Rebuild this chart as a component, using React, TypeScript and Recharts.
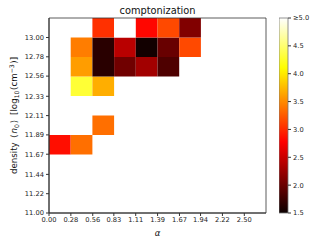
import { ScatterChart, XAxis, YAxis, ReferenceArea } from 'recharts';

// tick labels as printed on the axes
const alphaTicks = [0.0, 0.28, 0.56, 0.83, 1.11, 1.39, 1.67, 1.94, 2.22, 2.5];
const densityTicks = [11.0, 11.22, 11.44, 11.67, 11.89, 12.11, 12.33, 12.56, 12.78, 13.0];
const colorTicks = [1.5, 2.0, 2.5, 3.0, 3.5, 4.0, 4.5, 5.0];

// filled cells: alpha bin index, density bin index, value
const cellAlpha = [0, 1, 2, 1, 2, 1, 2, 3, 4, 5, 1, 2, 3, 4, 5, 6, 2, 3, 4, 5, 6];
const cellDensity = [3, 3, 4, 6, 6, 7, 7, 7, 7, 7, 8, 8, 8, 8, 8, 8, 9, 9, 9, 9, 9];
const cellValue = [
  2.85, 3.36, 3.36, 4.3, 3.69, 3.6, 1.66, 2.03, 2.29, 1.85, 3.43, 1.66, 2.41, 1.54, 1.99, 3.16, 3.03, 5.2,
  2.81, 3.16, 2.12,
];

const V_MIN = 1.5;
const V_MAX = 5.0;
const A_BIN = 2.5 / 9;
const D_BIN = 2 / 9;
const A_MAX = 10 * A_BIN;
const D_MIN = 11;
const D_MAX = D_MIN + 10 * D_BIN;

const FONT = '"DejaVu Sans", sans-serif';
const AXIS = '#333';

// matplotlib "hot"
function hot(t: number) {
  const c = (v: number) => Math.max(0, Math.min(1, v));
  const r = c(0.0416 + (1 - 0.0416) * (t / 0.365079));
  const g = c((t - 0.365079) / (0.746032 - 0.365079));
  const b = c((t - 0.746032) / (1 - 0.746032));
  const h = (v: number) => Math.round(v * 255).toString(16).padStart(2, '0');
  return `#${h(r)}${h(g)}${h(b)}`;
}

const colorOf = (v: number) => hot(Math.max(0, Math.min(1, (v - V_MIN) / (V_MAX - V_MIN))));

const tickStyle = { fontSize: 6.7, fill: '#222', fontFamily: FONT };

// mathtext-like y label: density <n_0> [log_10(cm^-3)]
function DensityLabel(props: any) {
  const vb = props.viewBox || { x: 0, y: 18, width: 49, height: 195 };
  const cx = vb.x + 14;
  const cy = vb.y + vb.height / 2;
  const sub = 6.2;
  return (
    <text
      x={cx}
      y={cy}
      transform={`rotate(-90 ${cx} ${cy})`}
      textAnchor="middle"
      dominantBaseline="central"
      fontSize={8.7}
      fontFamily={FONT}
      fill="#111"
    >
      <tspan>density </tspan>
      <tspan dx={1.5}>⟨</tspan>
      <tspan dx={1} fontStyle="italic">n</tspan>
      <tspan fontSize={sub} dy={2}>0</tspan>
      <tspan dx={1} dy={-2}>⟩</tspan>
      <tspan dx={2}> [log</tspan>
      <tspan fontSize={sub} dy={2}>10</tspan>
      <tspan dx={0.5} dy={-2}>(cm</tspan>
      <tspan fontSize={sub} dy={-3.5}>−3</tspan>
      <tspan dx={0.5} dy={3.5}>)]</tspan>
    </text>
  );
}

export default function App() {
  return (
    <div style={{ position: 'absolute', left: 0, top: 0, width: 327, height: 245, background: '#fff', fontFamily: FONT }}>
      <div
        style={{
          position: 'absolute',
          left: 49,
          width: 217,
          top: 5,
          textAlign: 'center',
          fontSize: 9.8,
          color: '#111',
          lineHeight: '12px',
        }}
      >
        comptonization
      </div>

      <div style={{ position: 'absolute', left: 0, top: 0 }}>
        <ScatterChart width={327} height={245} margin={{ top: 18, right: 61, bottom: 0, left: 0 }}>
          <XAxis
            type="number"
            dataKey="x"
            domain={[0, A_MAX]}
            ticks={alphaTicks}
            tickFormatter={(v: number) => v.toFixed(2)}
            interval={0}
            height={32}
            tick={tickStyle}
            tickSize={3}
            tickMargin={1}
            stroke={AXIS}
            allowDataOverflow
            label={{ value: 'α', position: 'center', dy: 4, style: { fontSize: 8.5, fontStyle: 'italic', fill: '#111', fontFamily: FONT } }}
          />
          <YAxis
            type="number"
            dataKey="y"
            domain={[D_MIN, D_MAX]}
            ticks={densityTicks}
            tickFormatter={(v: number) => v.toFixed(2)}
            interval={0}
            width={49}
            tick={tickStyle}
            tickSize={3}
            tickMargin={2}
            stroke={AXIS}
            allowDataOverflow
            label={<DensityLabel />}
          />
          {cellValue.map((v, k) => (
            <ReferenceArea
              key={k}
              x1={cellAlpha[k] * A_BIN}
              x2={(cellAlpha[k] + 1) * A_BIN}
              y1={D_MIN + cellDensity[k] * D_BIN}
              y2={D_MIN + (cellDensity[k] + 1) * D_BIN}
              fill={colorOf(v)}
              fillOpacity={1}
              stroke="none"
            />
          ))}
          <ReferenceArea x1={0} x2={A_MAX} y1={D_MIN} y2={D_MAX} fill="none" stroke={AXIS} strokeWidth={0.8} />
        </ScatterChart>
      </div>

      <div style={{ position: 'absolute', left: 279, top: 0 }}>
        <svg width={0} height={0} style={{ position: 'absolute' }}>
          <defs>
            <linearGradient id="hotGrad" x1="0" y1="1" x2="0" y2="0">
              <stop offset="0" stopColor={hot(0)} />
              <stop offset="0.365079" stopColor={hot(0.365079)} />
              <stop offset="0.746032" stopColor={hot(0.746032)} />
              <stop offset="1" stopColor={hot(1)} />
            </linearGradient>
          </defs>
        </svg>
        <ScatterChart width={48} height={245} margin={{ top: 18, right: 0, bottom: 32, left: 0 }}>
          <XAxis type="number" dataKey="x" domain={[0, 1]} hide allowDataOverflow />
          <YAxis
            type="number"
            dataKey="y"
            orientation="right"
            domain={[V_MIN, V_MAX]}
            ticks={colorTicks}
            tickFormatter={(v: number) => (v === 5 ? '≥5.0' : v.toFixed(1))}
            interval={0}
            width={39}
            tick={tickStyle}
            tickSize={3}
            tickMargin={2}
            stroke={AXIS}
            axisLine={false}
            allowDataOverflow
          />
          <ReferenceArea x1={0} x2={1} y1={V_MIN} y2={V_MAX} fill="url(#hotGrad)" fillOpacity={1} stroke="#777" strokeWidth={0.8} />
        </ScatterChart>
      </div>
    </div>
  );
}
